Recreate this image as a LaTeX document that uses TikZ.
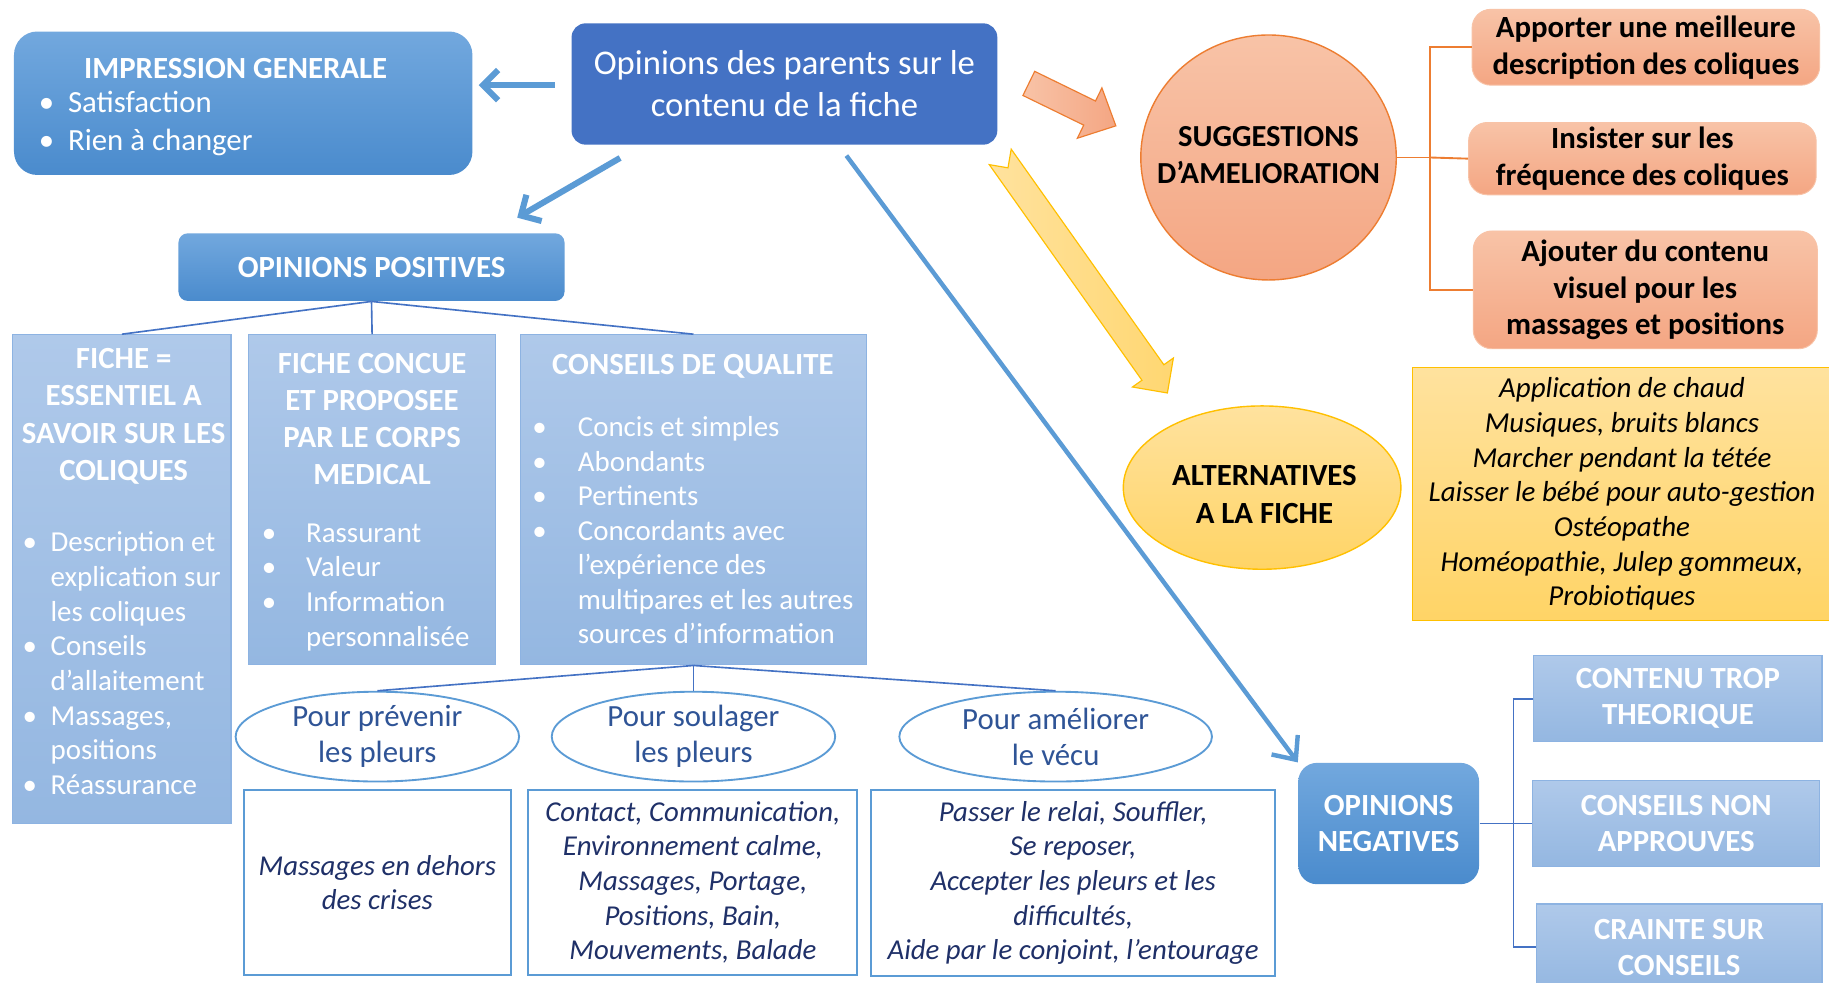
\documentclass[tikz,border=0pt]{standalone}
\usepackage{fontspec}
\setmainfont{Carlito}
\usepackage{xcolor}
\usepackage{tikz}
\usetikzlibrary{arrows.meta,calc}
\usetikzlibrary{positioning,shapes.geometric}

\definecolor{bleuFonce}{HTML}{4472C4}
\definecolor{bleuFleche}{HTML}{5B9BD5}
\definecolor{bleuHaut}{HTML}{72A8DE}
\definecolor{bleuBas}{HTML}{4A8BCD}
\definecolor{bleuClairHaut}{HTML}{AFC9EA}
\definecolor{bleuClairBas}{HTML}{94B7E1}
\definecolor{bleuBord}{HTML}{8DB3E2}
\definecolor{encre}{HTML}{1F3068}
\definecolor{encreOvale}{HTML}{2F5496}
\definecolor{saumonHaut}{HTML}{F8C3A7}
\definecolor{saumonBas}{HTML}{F4A683}
\definecolor{orangeTrait}{HTML}{ED7D31}
\definecolor{jauneHaut}{HTML}{FFE29E}
\definecolor{jauneBas}{HTML}{FFD466}
\definecolor{jauneBord}{HTML}{FFC000}

\newcommand\taille[2]{\fontsize{#1}{#2}\selectfont}
\newcommand\puce[1]{\makebox[#1][l]{\textbullet}}
\newcommand\suite[1]{\hspace*{#1}}

\begin{document}
\begin{tikzpicture}[
    x=0.5pt, y=-0.5pt, >=Latex,
    fonce/.style={inner sep=0pt, text=white, top color=bleuHaut, bottom color=bleuBas, align=center},
    pale/.style={inner sep=0pt, top color=bleuClairHaut, bottom color=bleuClairBas, draw=bleuBord, line width=0.5pt},
    blanc/.style={inner sep=0pt, text=white},
    ovale/.style={ellipse, draw=bleuFleche, line width=0.8pt, fill=white, inner sep=0pt},
    ovtexte/.style={align=center, text=encreOvale, font=\taille{13.2}{15.5}},
    cadre/.style={draw=bleuFleche, line width=0.8pt, inner sep=0pt, align=center, text=encre, font=\taille{12.35}{14.85}\itshape},
    saumon/.style={rounded corners=8pt, inner sep=0pt, top color=saumonHaut, bottom color=saumonBas, draw=saumonHaut, align=center, font=\taille{13.2}{15.75}\bfseries},
    fleche/.style={-{Straight Barb[length=6.5pt, width=13pt]}, line width=2.6pt, bleuFleche},
    arbre/.style={bleuFonce, line width=0.7pt},
    accolade/.style={orangeTrait, line width=0.8pt},
    note/.style={font=\small}
]

% cadre de la page
\fill[white] (0,0) rectangle (1568,842);
\path[use as bounding box] (0,0) rectangle (1568,842);

% noeud central
\node[rounded corners=6pt, fill=bleuFonce, text=white, inner sep=0pt, minimum width=182.5pt, minimum height=52pt,
      align=center, font=\taille{14.85}{18}] (main) at (672.5,72) {Opinions des parents sur le\\contenu de la fiche};

% impression generale
\node[fonce, rounded corners=10pt, minimum width=196.5pt, minimum height=61.5pt] (imp) at (208.5,88.5) {};
\node[blanc, font=\taille{13.2}{16}\bfseries] (impT) at (202,59) {IMPRESSION GENERALE};
\node[blanc, align=left, anchor=west, font=\taille{13.2}{16}] (impL) at (33,106)
     {\puce{12.5pt}Satisfaction\\\puce{12.5pt}Rien à changer};

% opinions positives
\node[fonce, rounded corners=4pt, minimum width=165.5pt, minimum height=29pt, font=\taille{13.2}{15}\bfseries]
     (pos) at (318.5,229) {OPINIONS POSITIVES};

\node[pale, minimum width=93.5pt, minimum height=209.5pt] (fa) at (104.5,496.5) {};
\node[blanc, align=center, font=\taille{13.2}{16}\bfseries] (faT) at (106,357)
     {FICHE =\\ESSENTIEL A\\SAVOIR SUR LES\\COLIQUES};
\node[blanc, align=left, anchor=west, font=\taille{12.4}{14.85}] (faL) at (19,568.5)
     {\puce{12pt}Description et\\\suite{12pt}explication sur\\\suite{12pt}les coliques\\\puce{12pt}Conseils\\
      \suite{12pt}d’allaitement\\\puce{12pt}Massages,\\\suite{12pt}positions\\\puce{12pt}Réassurance};

\node[pale, minimum width=106pt, minimum height=141.5pt] (fb) at (319,428.5) {};
\node[blanc, align=center, font=\taille{13.2}{15.85}\bfseries] (fbT) at (319,359.5)
     {FICHE CONCUE\\ET PROPOSEE\\PAR LE CORPS\\MEDICAL};
\node[blanc, align=left, anchor=west, font=\taille{12.4}{14.85}] (fbL) at (224,503.5)
     {\puce{19pt}Rassurant\\\puce{19pt}Valeur\\\puce{19pt}Information\\\suite{19pt}personnalisée};

\node[pale, minimum width=148.5pt, minimum height=141.5pt] (fc) at (594.5,428.5) {};
\node[blanc, font=\taille{13.2}{15.85}\bfseries] (fcT) at (594,314) {CONSEILS DE QUALITE};
\node[blanc, align=left, anchor=west, font=\taille{12.4}{14.8}] (fcL) at (456,454.5)
     {\puce{19.5pt}Concis et simples\\\puce{19.5pt}Abondants\\\puce{19.5pt}Pertinents\\\puce{19.5pt}Concordants avec\\
      \suite{19.5pt}l’expérience des\\\suite{19.5pt}multipares et les autres\\\suite{19.5pt}sources d’information};

% trois buts
\node[ovale, minimum width=121.5pt, minimum height=38.5pt, label={[ovtexte]center:{Pour prévenir\\les pleurs}}] (e1) at (323.5,631.5) {};
\node[ovale, minimum width=121.5pt, minimum height=38.5pt, label={[ovtexte]center:{Pour soulager\\les pleurs}}] (e2) at (594.5,631.5) {};
\node[ovale, minimum width=134pt, minimum height=38.5pt, label={[ovtexte]center:{Pour améliorer\\le vécu}}] (e3) at (905,631.5) {};

\node[cadre, minimum width=114.5pt, minimum height=79.5pt] (b1) at (323.5,756.5) {Massages en dehors\\des crises};
\node[cadre, minimum width=141pt, minimum height=79.5pt] (b2) at (594,756.5)
     {Contact, Communication,\\Environnement calme,\\Massages, Portage,\\Positions, Bain,\\Mouvements, Balade};
\node[cadre, minimum width=173pt, minimum height=80pt] (b3) at (920,757)
     {Passer le relai, Souffler,\\Se reposer,\\Accepter les pleurs et les\\difficultés,\\Aide par le conjoint, l’entourage};

% suggestions
\node[ellipse, top color=saumonHaut, bottom color=saumonBas, draw=orangeTrait, line width=0.6pt, inner sep=0pt,
      minimum width=109.5pt, minimum height=105pt,
      label={[align=center, yshift=1pt, font=\taille{13.1}{15.75}\bfseries]center:{SUGGESTIONS\\D’AMELIORATION}}] (sug) at (1087.5,135) {};
\node[saumon, minimum width=149pt, minimum height=32.5pt] (s1) at (1411,40.5) {Apporter une meilleure\\description des coliques};
\node[saumon, minimum width=149pt, minimum height=31pt] (s2) at (1408,136) {Insister sur les\\fréquence des coliques};
\node[saumon, minimum width=147.5pt, minimum height=50.5pt] (s3) at (1410.5,248.5) {Ajouter du contenu\\visuel pour les\\massages et positions};

% alternatives
\node[ellipse, top color=jauneHaut, bottom color=jauneBas, draw=jauneBord, line width=0.6pt, inner sep=0pt,
      minimum width=119pt, minimum height=70pt,
      label={[align=center, yshift=-3pt, xshift=1pt, font=\taille{13.2}{16}\bfseries]center:{ALTERNATIVES\\A LA FICHE}}] (alt) at (1082,418) {};
\node[top color=jauneHaut, bottom color=jauneBas, draw=jauneBord, line width=0.6pt, inner sep=0pt,
      minimum width=179.5pt, minimum height=108.5pt, align=center, font=\taille{12.4}{14.85}\itshape] (yel) at (1390.5,423.5)
     {Application de chaud\\Musiques, bruits blancs\\Marcher pendant la tétée\\Laisser le bébé pour auto-gestion\\Ostéopathe\\
      Homéopathie, Julep gommeux,\\Probiotiques};

% opinions negatives
\node[fonce, rounded corners=8pt, minimum width=77.5pt, minimum height=52pt, font=\taille{13.2}{15.5}\bfseries]
     (neg) at (1190.5,706) {OPINIONS\\NEGATIVES};
\node[pale, text=white, align=center, minimum width=123.5pt, minimum height=37pt, font=\taille{13.2}{15.5}\bfseries]
     (n1) at (1438.5,599) {CONTENU TROP\\THEORIQUE};
\node[pale, text=white, align=center, minimum width=123pt, minimum height=37pt, font=\taille{13.2}{15.5}\bfseries]
     (n2) at (1437,706) {CONSEILS NON\\APPROUVES};
\node[pale, text=white, align=center, minimum width=122.5pt, minimum height=37pt, font=\taille{13.2}{15.5}\bfseries]
     (n3) at (1439.5,812) {CRAINTE SUR\\CONSEILS};

% fleches bleues
\draw[fleche] ($(main.west)+(-14,1)$) -- ($(imp.east)+(5,-15.5)$);
\draw[fleche] ($(main.south west)+(42,11)$) -- ($(pos.north east)+(-41,-13)$);
\draw[-{Straight Barb[length=8pt, width=14pt]}, line width=1.9pt, bleuFleche] ($(main.south west)+(236,9)$) -- (neg.north west);

% fleches pleines
\begin{scope}[shift={(882,71.5)}, rotate=-26]
  \path[left color=saumonHaut, right color=saumonBas, draw=orangeTrait, line width=0.5pt]
    (0,-11.5) -- (58,-11.5) -- (58,-24) -- (83,0) -- (58,24) -- (58,11.5) -- (0,11.5) -- cycle;
\end{scope}
\begin{scope}[shift={(857.5,134.5)}, rotate=-54.7]
  \path[left color=jauneHaut, right color=jauneBas!80!jauneHaut, draw=jauneBord, line width=0.5pt]
    (0,-11.5) -- (226.5,-11.5) -- (226.5,-21.5) -- (248,0) -- (226.5,21.5) -- (226.5,11.5) -- (0,11.5) -- (11.5,0) -- cycle;
\end{scope}

% arbres
\draw[arbre] (pos.south) -- (fa.north);
\draw[arbre] (pos.south) -- (fb.north);
\draw[arbre] (pos.south) -- (fc.north);
\draw[arbre] (fc.south) -- (e1.north);
\draw[arbre] (fc.south) -- (e2.north);
\draw[arbre] (fc.south) -- (e3.north);

% accolades
\draw[accolade] (sug.east) -- ++(28,0) coordinate (sj);
\draw[accolade] (s1.west) -| (sj) |- (s3.west);
\draw[accolade] (sj) -- (s2.west);
\draw[arbre] (neg.east) -- ++(29,0) coordinate (nj);
\draw[arbre] (n1.west) -| (nj) |- (n3.west);
\draw[arbre] (nj) -- (n2.west);

\end{tikzpicture}
\end{document}
